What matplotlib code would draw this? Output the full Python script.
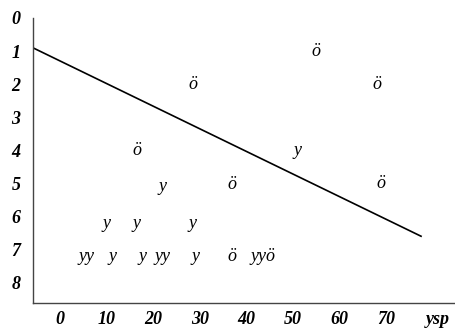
import matplotlib.pyplot as plt

# tick labels
x_ticks = [0, 10, 20, 30, 40, 50, 60, 70, 81]
x_labels = ["0", "10", "20", "30", "40", "50", "60", "70", "ysp"]
y_ticks = [0, 1, 2, 3, 4, 5, 6, 7, 8]
y_labels = ["0", "1", "2", "3", "4", "5", "6", "7", "8"]

# text markers
mark_text = ["ö", "ö", "ö", "ö", "y", "y", "ö", "ö",
             "y", "y", "y",
             "yy", "y", "y", "yy", "y", "ö", "yyö"]
mark_x = [55, 68, 28.5, 16.5, 51, 22, 37, 69,
          10, 16.5, 28.5,
          5.8, 11.4, 17.8, 22, 29, 37, 43.6]
mark_y = [1.0, 2.0, 2.0, 4.0, 4.0, 5.1, 5.05, 5.0,
          6.2, 6.2, 6.2,
          7.2, 7.2, 7.2, 7.2, 7.2, 7.2, 7.2]

# trend line
line_x = [-5.8, 77.5]
line_y = [0.9, 6.6]

tick_font = dict(family="Liberation Serif", style="italic", weight="bold")
mark_font = dict(family="Liberation Serif", style="italic")

fig = plt.figure(figsize=(4.56, 3.33), dpi=100)
ax = fig.add_axes([0.072, 0.09, 0.928, 0.856])

ax.plot(line_x, line_y, color="black", lw=1.2)
for t, x, y in zip(mark_text, mark_x, mark_y):
    ax.text(x, y, t, ha="center", va="center", fontsize=13, color="black", **mark_font)

ax.set_xlim(-5.8, 85)
ax.set_ylim(8.62, 0.09)
ax.set_xticks(x_ticks)
ax.set_xticklabels(x_labels, fontsize=13, **tick_font)
ax.set_yticks(y_ticks)
ax.set_yticklabels(y_labels, fontsize=13, **tick_font)
ax.tick_params(length=0)
ax.tick_params(axis="x", pad=6)
ax.tick_params(axis="y", pad=9)

for s in ["top", "right"]:
    ax.spines[s].set_visible(False)
for s in ["left", "bottom"]:
    ax.spines[s].set_color("#444444")
    ax.spines[s].set_linewidth(1.0)

fig.savefig("out.png", dpi=100)
